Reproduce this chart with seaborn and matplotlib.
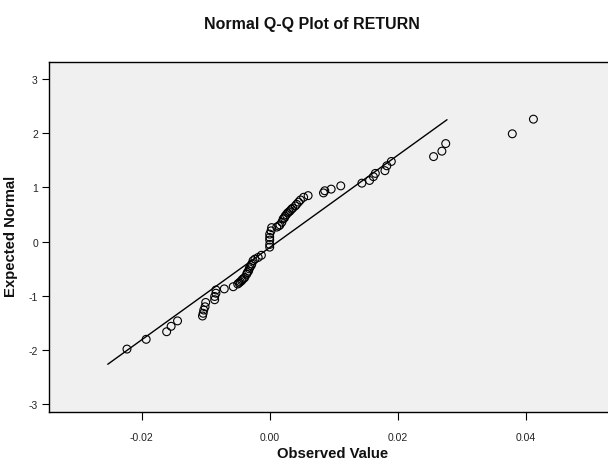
import matplotlib
matplotlib.use("Agg")
import matplotlib.pyplot as plt
import seaborn as sns
import pandas as pd

sns.set_theme(style="white")
plt.rcParams['font.family'] = ['Liberation Sans', 'DejaVu Sans']
plt.rcParams['axes.unicode_minus'] = False

observed = [
    -0.0223, -0.0193, -0.0161, -0.0154, -0.0144,
    -0.0105, -0.0104, -0.0103, -0.0101, -0.0100,
    -0.0086, -0.0086, -0.0084, -0.0084, -0.0071, -0.0057,
    -0.0050, -0.0048, -0.0046, -0.0044, -0.0043, -0.0041, -0.0039, -0.0036,
    -0.0035, -0.0033, -0.0032, -0.0031, -0.0029, -0.0028, -0.0026,
    -0.0023, -0.0018, -0.0013,
    0.0000, 0.0000, 0.0000, 0.0000, 0.0000, 0.0002, 0.0003,
    0.0011, 0.0014, 0.0016, 0.0019, 0.0021, 0.0023, 0.0024, 0.0026, 0.0028,
    0.0030, 0.0032, 0.0034, 0.0036, 0.0040, 0.0042, 0.0045, 0.0048, 0.0053, 0.0060,
    0.0084, 0.0086, 0.0096, 0.0111,
    0.0144, 0.0156, 0.0162, 0.0165, 0.0180, 0.0183, 0.0190,
    0.0256, 0.0269, 0.0275, 0.0379, 0.0412,
]
expected = [
    -1.98, -1.80, -1.66, -1.56, -1.46,
    -1.37, -1.32, -1.26, -1.20, -1.12,
    -1.07, -1.01, -0.95, -0.89, -0.87, -0.83,
    -0.78, -0.76, -0.74, -0.72, -0.70, -0.68, -0.66, -0.60,
    -0.57, -0.54, -0.50, -0.47, -0.44, -0.41, -0.35,
    -0.32, -0.29, -0.25,
    -0.10, -0.05, 0.03, 0.08, 0.14, 0.20, 0.26,
    0.27, 0.29, 0.31, 0.36, 0.42, 0.44, 0.47, 0.50, 0.53,
    0.55, 0.57, 0.60, 0.62, 0.66, 0.69, 0.73, 0.77, 0.82, 0.85,
    0.90, 0.94, 0.97, 1.03,
    1.08, 1.13, 1.20, 1.26, 1.31, 1.40, 1.48,
    1.57, 1.67, 1.81, 1.99, 2.26,
]
# Reference line endpoints
line_x = [-0.0253, 0.0277]
line_y = [-2.26, 2.25]

x_ticks = [-0.02, 0.00, 0.02, 0.04]
x_tick_labels = ["-0.02", "0.00", "0.02", "0.04"]
y_ticks = [-3, -2, -1, 0, 1, 2, 3]

df = pd.DataFrame({"Observed Value": observed, "Expected Normal": expected})
line_df = pd.DataFrame({"x": line_x, "y": line_y})

fig = plt.figure(figsize=(6.08, 4.64), dpi=100)
fig.patch.set_facecolor("white")
ax = fig.add_axes([49/608, 1 - 413.3/464, 559/608, 350.6/464])
ax.set_facecolor("#f0f0f0")

sns.lineplot(data=line_df, x="x", y="y", ax=ax, color="black", linewidth=1.0,
             sort=False, estimator=None)
sns.scatterplot(data=df, x="Observed Value", y="Expected Normal", ax=ax,
                marker="o", s=32, facecolors="none", edgecolor="black",
                linewidth=0.8, zorder=3)

ax.set_xlim(-0.03448, 0.05285)
ax.set_ylim(-3.146, 3.32)
ax.set_xticks(x_ticks)
ax.set_xticklabels(x_tick_labels)
ax.set_yticks(y_ticks)
ax.tick_params(axis="y", which="major", direction="out", length=5, width=0.8,
               color="black", labelsize=7.5, labelcolor="#222222", pad=3,
               left=True)
ax.tick_params(axis="x", which="major", direction="out", length=6, width=0.8,
               color="black", labelsize=7.5, labelcolor="#222222", pad=8,
               bottom=True)
for side in ["left", "top", "bottom"]:
    ax.spines[side].set_visible(True)
    ax.spines[side].set_color("black")
    ax.spines[side].set_linewidth(1.0)
ax.spines["right"].set_visible(False)

ax.set_xlabel("Observed Value", fontsize=10.7, fontweight="bold", color="#111111")
ax.set_ylabel("Expected Normal", fontsize=10.7, fontweight="bold", color="#111111")
ax.xaxis.set_label_coords((332.6 - 49) / 559, (413.3 - 447) / 350.6)
ax.yaxis.set_label_coords((18 - 49) / 559, (413.3 - 236) / 350.6)

fig.text(312/608, 1 - 25/464, "Normal Q-Q Plot of RETURN", fontsize=11.5,
         fontweight="bold", ha="center", va="center", color="#111111")

fig.savefig("out.png", dpi=100)
